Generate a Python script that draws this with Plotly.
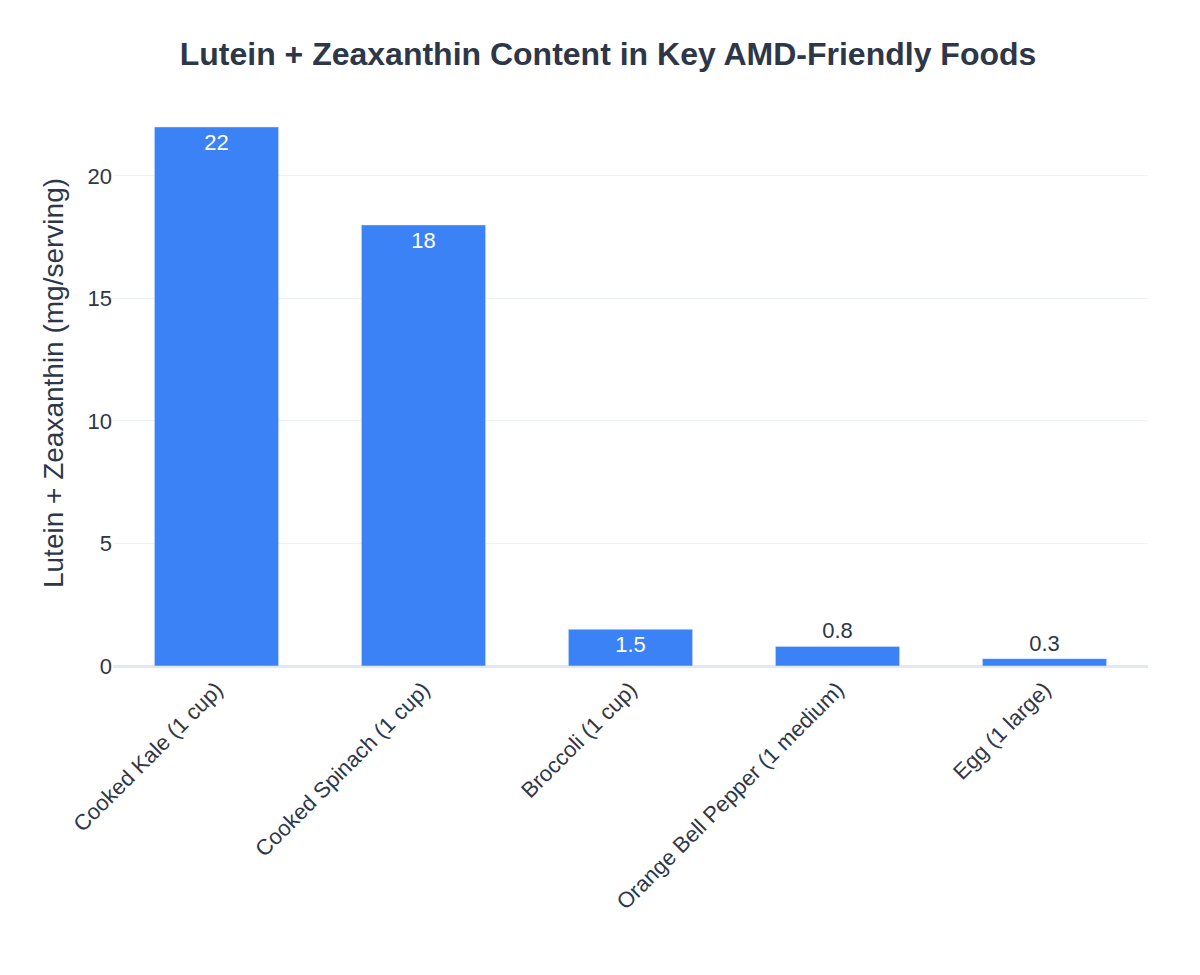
import plotly.graph_objects as go

foods = ["Cooked Kale (1 cup)", "Cooked Spinach (1 cup)", "Broccoli (1 cup)",
         "Orange Bell Pepper (1 medium)", "Egg (1 large)"]
values = [22, 18, 1.5, 0.8, 0.3]

fig = go.Figure(go.Bar(
    x=foods, y=values, text=[str(v) for v in values], textposition="auto",
    marker_color="#3B82F6", width=0.6,
    textfont=dict(size=22),
    insidetextfont=dict(color="white", size=22),
    outsidetextfont=dict(color="#2D3748", size=22),
))
fig.update_layout(
    width=1200, height=975,
    paper_bgcolor="white", plot_bgcolor="white",
    font=dict(family="Liberation Sans, Arial", color="#2D3748"),
    title=dict(text="<b>Lutein + Zeaxanthin Content in Key AMD-Friendly Foods</b>",
               x=0.5, xanchor="center", y=0.965, font=dict(size=32, color="#2D3748")),
    margin=dict(l=105, r=60, t=92, b=317),
    showlegend=False,
)
fig.update_xaxes(tickangle=-45, tickfont=dict(size=22), showline=True, linecolor="#E2E8F0", linewidth=2)
fig.update_yaxes(title=dict(text="Lutein + Zeaxanthin (mg/serving)", font=dict(size=28)),
                 tickfont=dict(size=22), gridcolor="#EDF2F7", zeroline=True,
                 zerolinecolor="#E2E8F0", zerolinewidth=2, range=[0, 23.1])
fig.write_html("out.html")
